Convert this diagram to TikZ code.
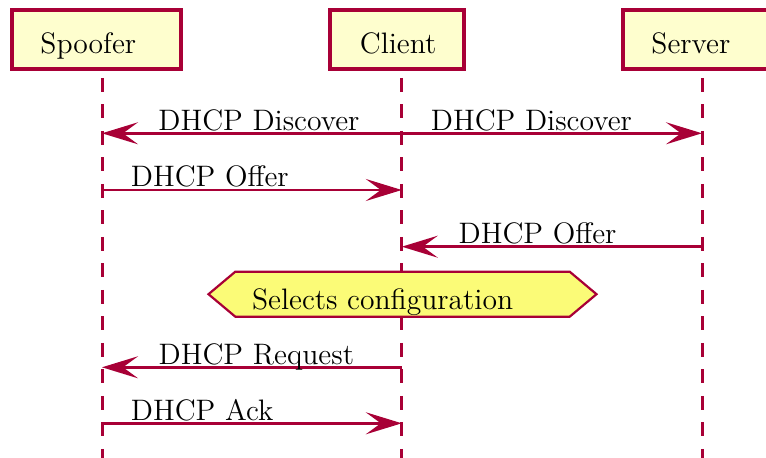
\documentclass[tikz,border=0pt]{standalone}
\usetikzlibrary{arrows.meta,shapes.symbols}
\definecolor{umlred}{HTML}{A80036}
\definecolor{actorfill}{HTML}{FEFECE}
\definecolor{notefill}{HTML}{FBFB77}
\begin{document}
\begin{tikzpicture}[x=0.5pt,y=-0.5pt,
  actorbox/.style={draw=umlred, fill=actorfill, line width=1.85pt, inner sep=0pt, minimum height=29.8pt},
  txt/.style={font=\fontsize{14.8}{17}\selectfont, inner sep=0pt, anchor=base west},
  lifeline/.style={draw=umlred, line width=1.5pt, dash pattern=on 7pt off 6.25pt},
  msg/.style={draw=umlred, line width=1.4pt, -{Stealth[length=18pt,width=11pt,inset=7.5pt]}},
  notebox/.style={signal, signal to=east and west, signal pointer angle=80, draw=umlred, fill=notefill, line width=1.1pt, inner sep=0pt, minimum width=194pt, minimum height=22.5pt}]
\useasboundingbox (0,0) rectangle (766,458);
\clip (0,0) rectangle (766,458);

% lifeline end points
\coordinate (spTop) at (102,78);   \coordinate (spBot) at (102,460);
\coordinate (clTop) at (401.8,78); \coordinate (clBot) at (401.8,460);
\coordinate (svTop) at (702,78);   \coordinate (svBot) at (702,460);
\draw[lifeline] (spTop) -- (spBot);
\draw[lifeline] (clTop) -- (clBot);
\draw[lifeline] (svTop) -- (svBot);

% actor boxes
\node[actorbox, minimum width=84.8pt] (spoofer) at (96.5,39.5) {};
\node[actorbox, minimum width=67.3pt] (client) at (397,39.5) {};
\node[actorbox, minimum width=79.3pt] (server) at (702,39.5) {};
\node[txt] (spooferT) at (40,53.8) {Spoofer};
\node[txt] (clientT) at (359.5,53.5) {Client};
\node[txt] (serverT) at (651,53.5) {Server};

% message anchors
\coordinate (sp1) at (102,133.3); \coordinate (cl1) at (401.8,133.3); \coordinate (sv1) at (702,133.3);
\coordinate (sp2) at (102,190);   \coordinate (cl2) at (401.8,190);
\coordinate (cl3) at (401.8,246.7); \coordinate (sv3) at (702,246.7);
\coordinate (sp4) at (102,367.3); \coordinate (cl4) at (401.8,367.3);
\coordinate (sp5) at (102,423.3); \coordinate (cl5) at (401.8,423.3);

\draw[msg] (cl1) -- (sp1);
\draw[msg] (cl1) -- (sv1);
\draw[msg] (sp2) -- (cl2);
\draw[msg] (sv3) -- (cl3);
\draw[msg] (cl4) -- (sp4);
\draw[msg] (sp5) -- (cl5);

\node[txt] (m1) at (158,130.3) {DHCP Discover};
\node[txt] (m2) at (430.5,130.3) {DHCP Discover};
\node[txt] (m3) at (130.5,187) {DHCP Offer};
\node[txt] (m4) at (458.3,243.7) {DHCP Offer};
\node[txt] (m5) at (158.3,364.3) {DHCP Request};
\node[txt] (m6) at (130.5,420.3) {DHCP Ack};

% note
\node[notebox] (note) at (402.5,294.2) {};
\node[txt] (noteT) at (251.7,309.2) {Selects configuration};
\end{tikzpicture}
\end{document}
